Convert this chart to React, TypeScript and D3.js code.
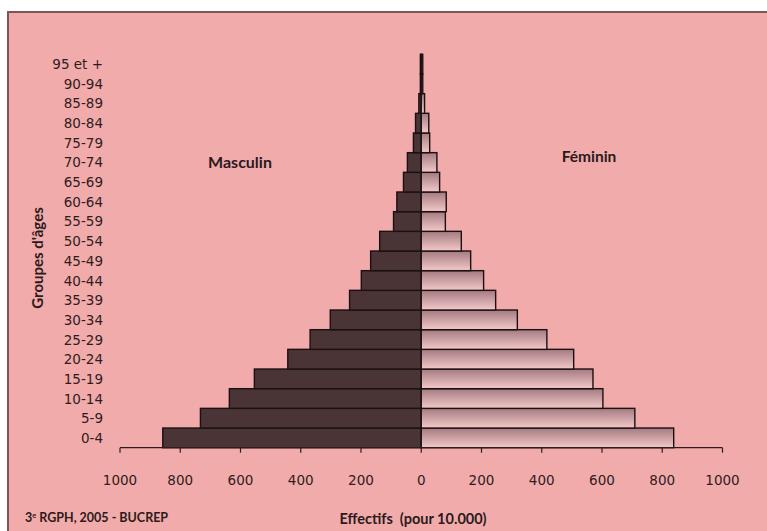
import * as d3 from 'd3';

// age groups, bottom to top
const ageGroups = [
  '0-4', '5-9', '10-14', '15-19', '20-24', '25-29', '30-34', '35-39', '40-44', '45-49',
  '50-54', '55-59', '60-64', '65-69', '70-74', '75-79', '80-84', '85-89', '90-94', '95 et +',
];
// effectifs pour 10.000
const masculin = [858, 733, 637, 554, 443, 369, 302, 238, 199, 168, 138, 92, 81, 59, 46, 26, 19, 8, 3, 3];
const feminin = [838, 709, 603, 570, 506, 417, 319, 247, 207, 164, 133, 80, 83, 61, 52, 28, 25, 11, 5, 5];
const xTicks = [-1000, -800, -600, -400, -200, 0, 200, 400, 600, 800, 1000];

const W = 767;
const H = 531;
const BG = '#f2abab';
const INK = '#2e1c1e';
const MALE = '#4a3436';

const labelFont = "'DejaVu Sans', sans-serif";
const boldFont = "Lato, 'Open Sans', sans-serif";

export default function App() {
  const x = d3.scaleLinear().domain([-1000, 1000]).range([120, 722.5]);
  const y = d3.scaleBand<string>().domain([...ageGroups].reverse()).range([54.3, 447.7]).padding(0);
  const axisY = 447.7;
  const bw = y.bandwidth();

  return (
    <div style={{ position: 'fixed', left: 0, top: 0 }}>
      <svg width={W} height={H} style={{ display: 'block' }}>
        <defs>
          <linearGradient id="fem" x1="0" y1="0" x2="0" y2="1">
            <stop offset="0%" stopColor="#a47b82" />
            <stop offset="100%" stopColor="#f4c8c8" />
          </linearGradient>
        </defs>
        <rect x={0} y={0} width={W} height={H} fill="#fff" />
        <rect x={8} y={12} width={W} height={H} fill={BG} stroke="#7d5557" strokeWidth={2} />

        {/* bars */}
        {ageGroups.map((g, i) => (
          <g key={g}>
            <rect
              x={x(-masculin[i])}
              y={y(g)!}
              width={x(0) - x(-masculin[i])}
              height={bw}
              fill={MALE}
              stroke="#1c1011"
              strokeWidth={1.4}
            />
            <rect
              x={x(0)}
              y={y(g)!}
              width={x(feminin[i]) - x(0)}
              height={bw}
              fill="url(#fem)"
              stroke="#1c1011"
              strokeWidth={1.4}
            />
          </g>
        ))}

        {/* x axis */}
        <line x1={x(-1000)} x2={x(1000)} y1={axisY} y2={axisY} stroke={INK} strokeWidth={1.2} />
        {xTicks.map((t) => (
          <g key={t}>
            <line x1={x(t)} x2={x(t)} y1={axisY} y2={axisY + 5} stroke={INK} strokeWidth={1.2} />
            <text
              x={x(t)}
              y={axisY + 37}
              textAnchor="middle"
              fontFamily={labelFont}
              fontSize={13.5}
              fill={INK}
            >
              {Math.abs(t)}
            </text>
          </g>
        ))}

        {/* y labels */}
        {ageGroups.map((g) => (
          <text
            key={g}
            x={103}
            y={y(g)! + bw / 2 + 5}
            textAnchor="end"
            fontFamily={labelFont}
            fontSize={13.5}
            fill={INK}
          >
            {g}
          </text>
        ))}

        <text x={240} y={168} textAnchor="middle" fontFamily={boldFont} fontWeight="bold" fontSize={16} fill="#2a1a1b">
          Masculin
        </text>
        <text x={589} y={162} textAnchor="middle" fontFamily={boldFont} fontWeight="bold" fontSize={15.5} fill="#2a1a1b">
          Féminin
        </text>
        <text
          transform="translate(43,258) rotate(-90)"
          textAnchor="middle"
          fontFamily={boldFont}
          fontWeight="bold"
          fontSize={15}
          fill="#2a1a1b"
        >
          Groupes d'âges
        </text>
        <text x={413} y={524} textAnchor="middle" fontFamily={boldFont} fontWeight="bold" fontSize={14.5} fill="#2a1a1b">
          {'Effectifs\u00a0 (pour 10.000)'}
        </text>
        <text x={25} y={522} fontFamily={boldFont} fontWeight="bold" fontSize={12.5} fill="#2a1a1b">
          3<tspan fontSize={7.5} dy={-4}>e</tspan>
          <tspan dy={4}> RGPH, 2005 - BUCREP</tspan>
        </text>
      </svg>
    </div>
  );
}
